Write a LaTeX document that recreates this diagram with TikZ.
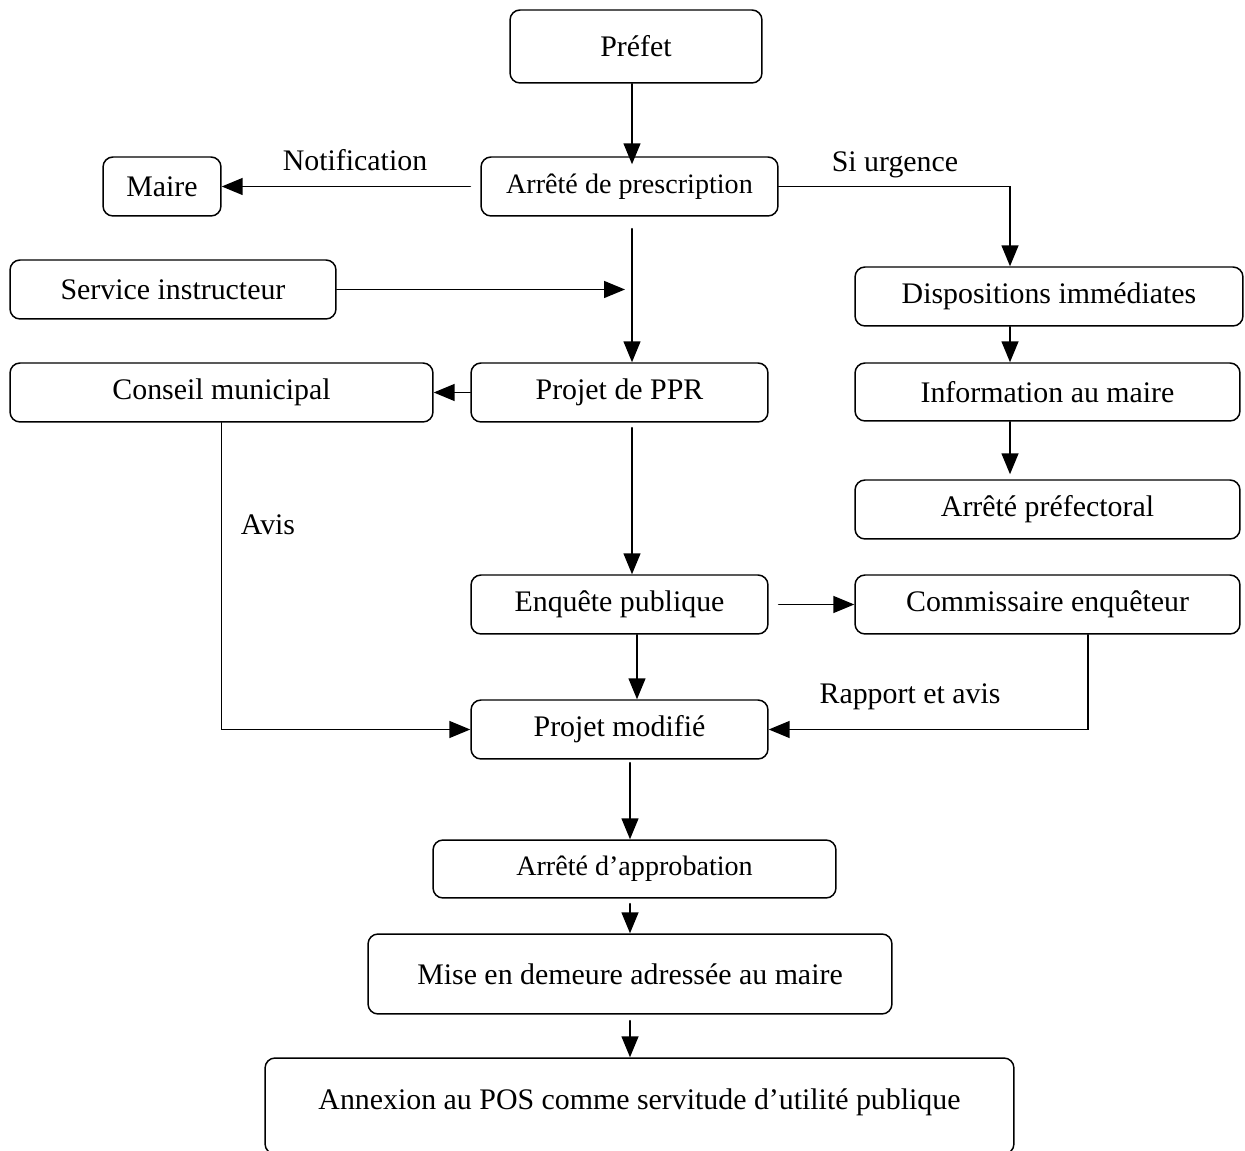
\documentclass[tikz,border=0pt]{standalone}
\usepackage{fontspec}
\setmainfont{Liberation Serif}
\usetikzlibrary{arrows.meta}

\begin{document}
\begin{tikzpicture}[x=0.02cm,y=-0.02cm,line width=0.85pt,line cap=round]
	\tikzstyle{boite}=[draw,rounded corners=0.2cm,inner sep=0pt,align=center,font=\fontsize{17pt}{20pt}\selectfont];
	\tikzstyle{fleche}=[-{Triangle[length=0.42cm,width=0.34cm]}];
	\tikzstyle{texte}=[inner sep=0pt,font=\fontsize{17pt}{20pt}\selectfont];
	\useasboundingbox (0,0) rectangle (1245,1151);
	%% boxes
	\node[boite,minimum width=5.04cm,minimum height=1.46cm] (prefet)      at (636,46.5)    {Préfet};
	\node[boite,minimum width=2.36cm,minimum height=1.18cm] (maire)       at (162,186.5)   {Maire};
	\node[boite,minimum width=5.94cm,minimum height=1.18cm,font=\fontsize{16pt}{19pt}\selectfont] (arrete) at (629.5,186.5) {Arrêté de prescription};
	\node[boite,minimum width=6.52cm,minimum height=1.18cm] (service)     at (173,289.5)   {Service instructeur};
	\node[boite,minimum width=7.76cm,minimum height=1.18cm] (dispo)       at (1049,296.5)  {Dispositions immédiates};
	\node[boite,minimum width=8.46cm,minimum height=1.18cm] (conseil)     at (221.5,392.5) {Conseil municipal};
	\node[boite,minimum width=5.94cm,minimum height=1.18cm] (projet)      at (619.5,392.5) {Projet de PPR};
	\node[boite,minimum width=7.70cm,minimum height=1.16cm] (info)        at (1047.5,392)  {Information au maire};
	\node[boite,minimum width=7.70cm,minimum height=1.18cm] (prefectoral) at (1047.5,509.5) {Arrêté préfectoral};
	\node[boite,minimum width=5.94cm,minimum height=1.18cm] (enquete)     at (619.5,604.5) {Enquête publique};
	\node[boite,minimum width=7.70cm,minimum height=1.18cm] (commissaire) at (1047.5,604.5) {Commissaire enquêteur};
	\node[boite,minimum width=5.94cm,minimum height=1.18cm] (modifie)     at (619.5,729.5) {Projet modifié};
	\node[boite,minimum width=8.06cm,minimum height=1.16cm,font=\fontsize{16pt}{19pt}\selectfont] (approbation) at (634.5,869) {Arrêté d’approbation};
	\node[boite,minimum width=10.48cm,minimum height=1.60cm] (demeure)    at (630,974)     {Mise en demeure adressée au maire};
	\node[boite,minimum width=14.98cm,minimum height=1.92cm,text height=12pt,text depth=8pt] (annexion) at (639.5,1106) {Annexion au POS comme servitude d’utilité publique};
	%% labels
	\node[texte] (notif)   at (355,160) {Notification};
	\node[texte] (urgence) at (895,165) {Si urgence};
	\node[texte] (avis)    at (268,525) {Avis};
	\node[texte] (rapport) at (910,697) {Rapport et avis};
	\coordinate (s1) at (625,289.5);
	%% connections
	\draw[fleche,shorten >=-0.16cm] ([xshift=-0.08cm]prefet.south) -- ([xshift=-0.08cm]prefet.south |- arrete.north);
	\draw[fleche,shorten <=0.2cm] (arrete.west) -- (maire.east);
	\draw[fleche] (arrete.east) -| ([xshift=-0.78cm]dispo.north);
	\draw[fleche,shorten <=0.24cm] ([xshift=0.05cm]arrete.south) -- ([xshift=0.05cm]arrete.south |- projet.north);
	\draw[fleche] (service.east) -- (s1);
	\draw[fleche] (projet.west) -- (conseil.east);
	\draw[fleche] ([xshift=-0.78cm]dispo.south) -- ([xshift=-0.78cm]dispo.south |- info.north);
	\draw[fleche,shorten >=0.1cm] ([xshift=-0.75cm]info.south) -- ([xshift=-0.75cm]info.south |- prefectoral.north);
	\draw[fleche,shorten <=0.1cm] ([xshift=0.25cm]projet.south) -- ([xshift=0.25cm]projet.south |- enquete.north);
	\draw[fleche] (conseil.south) |- (modifie.west);
	\draw[fleche,shorten <=0.2cm] (enquete.east) -- (commissaire.west);
	\draw[fleche] ([xshift=0.35cm]enquete.south) -- ([xshift=0.35cm]modifie.north);
	\draw[fleche] ([xshift=0.81cm]commissaire.south) |- (modifie.east);
	\draw[fleche,shorten <=0.06cm] ([xshift=0.21cm]modifie.south) -- ([xshift=0.21cm]modifie.south |- approbation.north);
	\draw[fleche,shorten <=0.1cm] (demeure.north |- approbation.south) -- (demeure.north);
	\draw[fleche,shorten <=0.12cm] (demeure.south) -- (demeure.south |- annexion.north);
\end{tikzpicture}
\end{document}
